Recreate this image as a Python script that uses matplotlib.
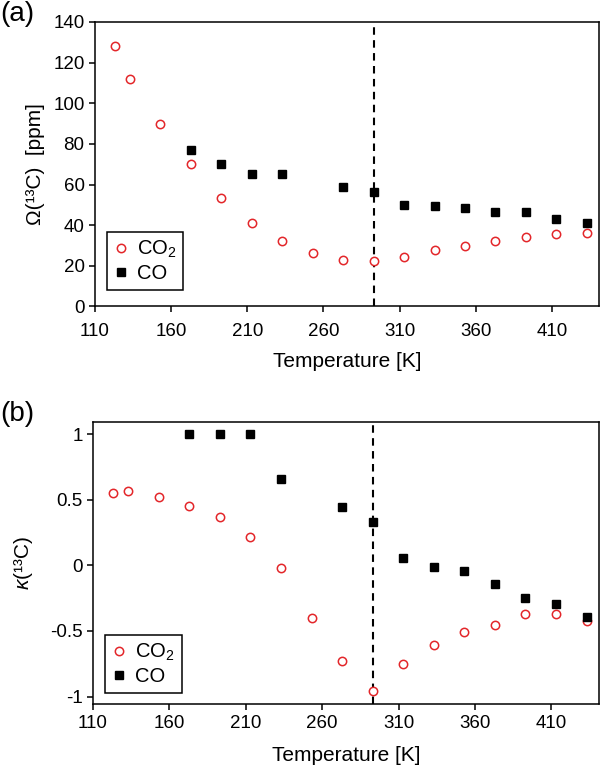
"""
Two-panel scatter: Omega(13C) and kappa(13C) of CO2 and CO versus temperature.
"""
import matplotlib
matplotlib.use("Agg")

import matplotlib.pyplot as plt

plt.rcParams["font.family"] = ["Liberation Sans", "DejaVu Sans"]
plt.rcParams["mathtext.fontset"] = "custom"
plt.rcParams["mathtext.rm"] = "Liberation Sans"
plt.rcParams["mathtext.it"] = "Liberation Sans:italic"
plt.rcParams["mathtext.bf"] = "Liberation Sans:bold"

# ───────────────────────── Data ────────────────────────────────────────────
T_CO2 = [123, 133, 153, 173, 193, 213, 233, 253, 273, 293,
         313, 333, 353, 373, 393, 413, 433]
T_CO = [173, 193, 213, 233, 273, 293, 313, 333, 353, 373, 393, 413, 433]

omega_co2 = [128.0, 111.8, 89.7, 70.0, 53.5, 40.9, 32.2, 26.3, 23.0, 22.4,
             24.3, 27.6, 29.6, 32.2, 34.3, 35.5, 36.3]
omega_co = [76.9, 69.9, 65.3, 65.3, 58.6, 56.1, 50.0, 49.4, 48.3, 46.3,
            46.3, 43.0, 41.0]

kappa_co2 = [0.553, 0.566, 0.523, 0.454, 0.370, 0.213, -0.018, -0.399,
             -0.729, -0.956, -0.750, -0.605, -0.506, -0.457, -0.371,
             -0.371, -0.425]
kappa_co = [1.0, 1.0, 1.0, 0.655, 0.442, 0.328, 0.053, -0.013, -0.041,
            -0.140, -0.247, -0.298, -0.394]

T_ROOM = 293
X_TICKS = [110, 160, 210, 260, 310, 360, 410]
OMEGA_TICKS = [0, 20, 40, 60, 80, 100, 120, 140]
KAPPA_TICKS = [-1, -0.5, 0, 0.5, 1]
KAPPA_TICKLABELS = ["-1", "-0.5", "0", "0.5", "1"]

RED = "#e3262a"
TICK_FS = 13.5
LABEL_FS = 15
LEG_FS = 14.5


def _style(ax, xpad):
    for sp in ax.spines.values():
        sp.set_linewidth(1.1)
    ax.tick_params(direction="out", length=4, width=1.1, labelsize=TICK_FS,
                   top=False, right=False)
    ax.tick_params(axis="x", pad=xpad)
    ax.set_xlim(110, 441)
    ax.set_xticks(X_TICKS)


def _scatter(ax, yco2, yco):
    ax.plot(T_CO2, yco2, ls="none", marker="o", ms=6, mfc="white",
            mec=RED, mew=1.1, label="CO$_2$", zorder=3)
    ax.plot(T_CO, yco, ls="none", marker="s", ms=5.4, mfc="black",
            mec="black", label="CO", zorder=4)
    ax.axvline(T_ROOM, color="black", lw=1.5, ls=(0, (3.6, 2.6)), zorder=2)


def _legend(ax, anchor):
    leg = ax.legend(loc="lower left", bbox_to_anchor=anchor, borderaxespad=0,
                    fontsize=LEG_FS, handlelength=0.7, handletextpad=0.45,
                    labelspacing=0.2, borderpad=0.35, fancybox=False,
                    framealpha=1, edgecolor="black")
    leg.get_frame().set_linewidth(1.1)


fig = plt.figure(figsize=(6.0, 7.71), dpi=100)

# ── Panel (a) ──────────────────────────────────────────────────────────────
ax_a = fig.add_axes([0.1583, 0.6025, 0.840, 0.369])
_style(ax_a, xpad=8)
_scatter(ax_a, omega_co2, omega_co)
ax_a.set_ylim(0, 140)
ax_a.set_yticks(OMEGA_TICKS)
ax_a.set_ylabel("Ω(¹³C)  [ppm]", fontsize=LABEL_FS)
ax_a.yaxis.set_label_coords(-0.099, 0.5)
ax_a.set_xlabel("Temperature [K]", fontsize=LABEL_FS)
ax_a.xaxis.set_label_coords(0.5, -0.16)
_legend(ax_a, (0.023, 0.058))

# ── Panel (b) ──────────────────────────────────────────────────────────────
ax_b = fig.add_axes([0.155, 0.0869, 0.843, 0.366])
_style(ax_b, xpad=4)
_scatter(ax_b, kappa_co2, kappa_co)
ax_b.set_ylim(-1.057, 1.094)
ax_b.set_yticks(KAPPA_TICKS)
ax_b.set_yticklabels(KAPPA_TICKLABELS)
ax_b.set_ylabel(r"$\kappa$(¹³C)", fontsize=LABEL_FS)
ax_b.yaxis.set_label_coords(-0.115, 0.5)
ax_b.set_xlabel("Temperature [K]", fontsize=LABEL_FS)
ax_b.xaxis.set_label_coords(0.5, -0.149)
_legend(ax_b, (0.0237, 0.038))

# ── Panel letters ──────────────────────────────────────────────────────────
fig.text(0.0, 1 - 14 / 771, "(a)", fontsize=20, ha="left", va="center")
fig.text(0.0, 1 - 414 / 771, "(b)", fontsize=20, ha="left", va="center")

fig.savefig("out.png", dpi=100)
plt.close(fig)
